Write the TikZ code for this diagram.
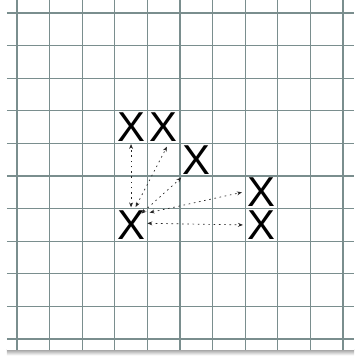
\documentclass[tikz,border=0pt]{standalone}
\usepackage{fontspec}
\setsansfont{Liberation Sans}
\usetikzlibrary{arrows.meta}
\definecolor{rulegray}{RGB}{122,142,142}

\begin{document}
\begin{tikzpicture}[
  ruling/.style={rulegray, line width=1pt},
  xmark/.style={inner sep=0pt, font=\sffamily\fontsize{36.5}{36.5}\selectfont},
  link/.style={{Stealth[length=1.5mm,width=1.2mm]}-{Stealth[length=1.5mm,width=1.2mm]},
    black!85, line width=0.6pt, dash pattern=on 1.4pt off 3.2pt}
]
\useasboundingbox (0,0) rectangle (10.86,10.92);
% sheet with its shadow
\shade[top color=gray!75, bottom color=white] (0.21,0.02) rectangle (10.86,0.2);
\fill[white] (0.21,0.18) rectangle (10.86,10.92);
\foreach \k in {0,...,10} {
  \draw[ruling] (0.52+\k,0.18) -- (0.52+\k,10.92);
  \draw[ruling] (0.21,0.52+\k) -- (10.86,0.52+\k);
}

\node[xmark] (x0) at (4.02,4.02) {X};
\node[xmark] (x1) at (4.02,7.02) {X};
\node[xmark] (x2) at (5.02,7.02) {X};
\node[xmark] (x3) at (6.02,6.02) {X};
\node[xmark] (x4) at (8.02,5.02) {X};
\node[xmark] (x5) at (8.02,4.02) {X};

\draw[link] ([shift={(0,0.54)}]x0.center) -- ([shift={(0,-0.52)}]x1.center);
\draw[link] ([shift={(0.14,0.55)}]x0.center) -- ([shift={(0.1,-0.6)}]x2.center);
\draw[link] ([shift={(0.32,0.35)}]x0.center) -- ([shift={(-0.46,-0.55)}]x3.center);
\draw[link] ([shift={(0.57,0.38)}]x0.center) -- ([shift={(-0.6,0)}]x4.center);
\draw[link] ([shift={(0.5,0.05)}]x0.center) -- ([shift={(-0.57,0)}]x5.center);
\end{tikzpicture}
\end{document}
